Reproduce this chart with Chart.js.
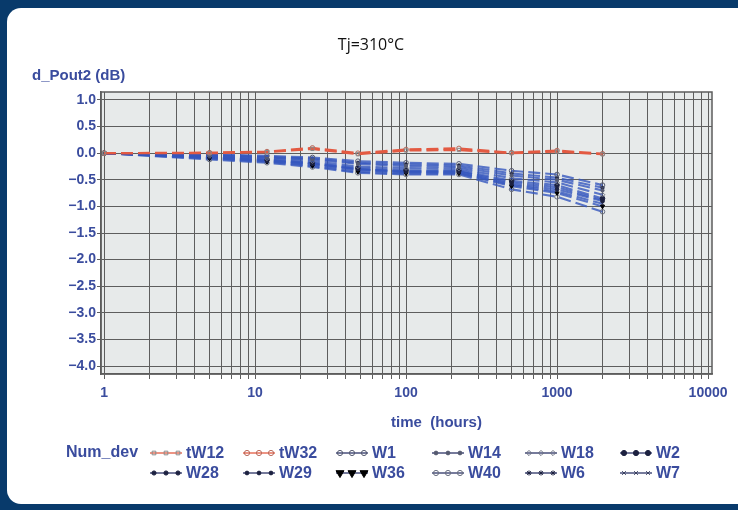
<!DOCTYPE html>
<html>
<head>
<meta charset="utf-8">
<script src="https://cdn.jsdelivr.net/npm/chart.js@4.4.1/dist/chart.umd.min.js"></script>
<style>
  html, body { margin: 0; padding: 0; }
  body { width: 738px; height: 510px; background: #083a6b; position: relative; overflow: hidden; }
  .panel { position: absolute; left: 7px; top: 8px; width: 760px; height: 496px; background: #fff; border-radius: 14px; }
  #chart { position: absolute; left: 0; top: 0; }
</style>
</head>
<body>
<div class="panel"></div>
<canvas id="chart" width="738" height="510"></canvas>
<script>
// Datos (tiempo en horas, d_Pout2 en dB)
const times = [1, 5, 12, 24, 48, 100, 224, 500, 1000, 2000];

const tW12 = [0, 0.00, 0.02, 0.08, -0.02, 0.05, 0.06, 0.00, 0.03, -0.02];
const tW32 = [0, 0.01, 0.03, 0.10, 0.00, 0.07, 0.09, 0.01, 0.05, -0.01];
const W1  = [0, -0.02, -0.05, -0.08, -0.15, -0.18, -0.20, -0.33, -0.40, -0.60];
const W14 = [0, -0.04, -0.08, -0.12, -0.20, -0.24, -0.26, -0.42, -0.50, -0.70];
const W18 = [0, -0.05, -0.10, -0.15, -0.25, -0.28, -0.29, -0.47, -0.55, -0.78];
const W2  = [0, -0.06, -0.12, -0.18, -0.28, -0.32, -0.32, -0.52, -0.60, -0.85];
const W28 = [0, -0.08, -0.14, -0.20, -0.30, -0.35, -0.35, -0.58, -0.68, -0.90];
const W29 = [0, -0.03, -0.07, -0.10, -0.18, -0.21, -0.23, -0.38, -0.46, -0.65];
const W36 = [0, -0.10, -0.16, -0.24, -0.35, -0.38, -0.38, -0.62, -0.75, -1.00];
const W40 = [0, -0.12, -0.18, -0.26, -0.37, -0.40, -0.40, -0.68, -0.82, -1.10];
const W6  = [0, -0.07, -0.13, -0.19, -0.30, -0.34, -0.34, -0.55, -0.64, -0.88];
const W7  = [0, -0.09, -0.15, -0.22, -0.32, -0.36, -0.37, -0.60, -0.72, -0.95];

const seriesNames = ['tW12', 'tW32', 'W1', 'W14', 'W18', 'W2', 'W28', 'W29', 'W36', 'W40', 'W6', 'W7'];
const seriesValues = [tW12, tW32, W1, W14, W18, W2, W28, W29, W36, W40, W6, W7];

const xTickLabels = [1, 10, 100, 1000, 10000];
const yTicks = [-4, -3.5, -3, -2.5, -2, -1.5, -1, -0.5, 0, 0.5, 1];

const titleText = 'Tj=310°C';
const yTitle = 'd_Pout2 (dB)';
const xTitle = 'time  (hours)';
const legendTitle = 'Num_dev';

// --- estilos ---
const TXT = '#3a4c9e';
const RED = '#e35a42';
const BLUE = 'rgba(52, 86, 190, 0.8)';
const MARK = '#1c2140';
const markers = {
  tW12: { style: 'rect', fill: false, color: '#8a8a8a' },
  tW32: { style: 'circle', fill: false, color: '#b86a5c' },
  W1:   { style: 'circle', fill: false, color: '#555a70' },
  W14:  { style: 'circle', fill: true,  color: '#555a70', r: 1.6 },
  W18:  { style: 'rectRot', fill: false, color: '#6a6f80' },
  W2:   { style: 'circle', fill: true,  color: MARK },
  W28:  { style: 'circle', fill: true,  color: MARK, r: 1.8 },
  W29:  { style: 'circle', fill: true,  color: MARK, r: 1.6 },
  W36:  { style: 'triangle', fill: true, color: '#000', rot: 180, r: 2.4, lr: 4.6 },
  W40:  { style: 'circle', fill: false, color: '#6a6f80' },
  W6:   { style: 'star', fill: true,  color: MARK },
  W7:   { style: 'crossRot', fill: true, color: '#3a4060' }
};

// lineas de la grilla logaritmica 1..10000
const xGrid = [];
for (let d = 1; d <= 1000; d *= 10) {
  for (let m = 1; m < 10; m++) xGrid.push(m * d);
}
xGrid.push(10000);

function fmtY(v) {
  const s = Math.abs(v).toFixed(1);
  return v < 0 ? '\u2212' + s : s;
}

const datasets = seriesNames.map((name, i) => {
  const red = name.startsWith('t');
  const mk = markers[name];
  return {
    label: name,
    data: times.map((t, j) => ({ x: t, y: seriesValues[i][j] })),
    borderColor: red ? RED : BLUE,
    borderWidth: red ? 2.2 : 2.1,
    borderDash: [12, 5],
    pointStyle: mk.style,
    pointRotation: mk.rot || 0,
    pointRadius: mk.r || 2.3,
    pointBorderWidth: 1,
    pointBorderColor: mk.color,
    pointBackgroundColor: mk.fill ? mk.color : 'rgba(255,255,255,0)',
    legendRadius: mk.lr || (mk.r || 2.3) + 0.3,
    order: red ? 0 : 1
  };
});

const decorPlugin = {
  id: 'decor',
  beforeDraw(chart) {
    const { ctx, chartArea: a } = chart;
    ctx.save();
    ctx.fillStyle = '#e7eaea';
    ctx.fillRect(a.left, a.top, a.right - a.left, a.bottom - a.top);
    ctx.restore();
  },
  afterDraw(chart) {
    const { ctx, chartArea: a } = chart;
    ctx.save();
    // marco del area
    ctx.strokeStyle = '#5c5c5c';
    ctx.lineWidth = 1.5;
    ctx.strokeRect(a.left, a.top, a.right - a.left, a.bottom - a.top);

    // titulo
    ctx.fillStyle = '#111';
    ctx.font = '16px "Open Sans"';
    ctx.textAlign = 'center';
    ctx.textBaseline = 'middle';
    ctx.fillText(titleText, 371, 45);

    // titulos de ejes
    ctx.fillStyle = TXT;
    ctx.font = 'bold 15px "Liberation Sans"';
    ctx.textAlign = 'left';
    ctx.fillText(yTitle, 32, 76);
    ctx.textAlign = 'center';
    ctx.fillText(xTitle, (a.left + a.right) / 2 + 30, 423);

    // leyenda
    ctx.textAlign = 'left';
    ctx.font = 'bold 16px "Liberation Sans"';
    ctx.fillText(legendTitle, 66, 453);
    const cols = [150, 243, 336, 432, 525, 620];
    const rows = [453, 473];
    chart.data.datasets.forEach((ds, i) => {
      const x0 = cols[i % 6];
      const y0 = rows[Math.floor(i / 6)];
      const red = ds.label.startsWith('t');
      ctx.strokeStyle = red ? RED : '#2c3466';
      ctx.lineWidth = 1.3;
      ctx.setLineDash([]);
      ctx.beginPath();
      ctx.moveTo(x0, y0);
      ctx.lineTo(x0 + 32, y0);
      ctx.stroke();
      [4, 16, 28].forEach(dx => {
        ctx.strokeStyle = ds.pointBorderColor;
        ctx.fillStyle = ds.pointBackgroundColor;
        ctx.lineWidth = 1;
        Chart.helpers.drawPoint(ctx, {
          pointStyle: ds.pointStyle,
          radius: ds.legendRadius,
          rotation: ds.pointRotation,
          borderWidth: 1
        }, x0 + dx, y0);
      });
      ctx.fillStyle = TXT;
      ctx.font = 'bold 16px "Liberation Sans"';
      ctx.fillText(ds.label, x0 + 36, y0 + 1);
    });
    ctx.restore();
  }
};

new Chart(document.getElementById('chart').getContext('2d'), {
  type: 'line',
  data: { datasets: datasets },
  options: {
    responsive: false,
    animation: false,
    layout: { padding: { left: 61, right: 26, top: 92, bottom: 100 } },
    plugins: { legend: { display: false }, tooltip: { enabled: false }, title: { display: false } },
    scales: {
      x: {
        type: 'logarithmic',
        min: 0.955,
        max: 10620,
        afterBuildTicks: s => { s.ticks = xGrid.map(v => ({ value: v })); },
        afterFit: s => { s.height = 36; },
        ticks: {
          autoSkip: false,
          maxRotation: 0,
          padding: 6,
          color: TXT,
          font: { family: 'Liberation Sans', size: 14, weight: 'bold' },
          callback: v => xTickLabels.includes(v) ? String(v) : ''
        },
        grid: { color: '#5e5e5e', lineWidth: 1, tickLength: 5 },
        border: { color: '#5c5c5c', width: 1.5 }
      },
      y: {
        type: 'linear',
        min: -4.15,
        max: 1.15,
        afterBuildTicks: s => { s.ticks = yTicks.map(v => ({ value: v })); },
        afterFit: s => { s.width = 40; },
        ticks: {
          padding: 1,
          color: TXT,
          font: { family: 'Liberation Sans', size: 14, weight: 'bold' },
          callback: v => fmtY(v)
        },
        grid: { color: '#5e5e5e', lineWidth: 1, tickLength: 4 },
        border: { color: '#5c5c5c', width: 1.5 }
      }
    }
  },
  plugins: [decorPlugin]
});
</script>
</body>
</html>
